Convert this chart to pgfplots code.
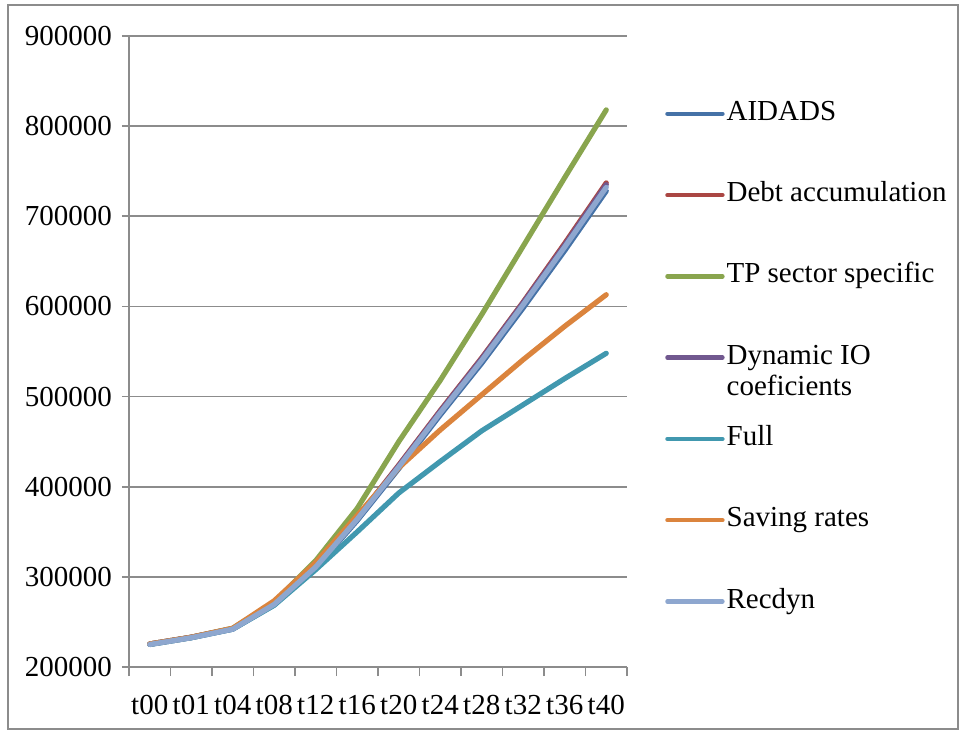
\documentclass[border=0pt]{standalone}
\usepackage{fontspec}
\setmainfont{Liberation Serif}
\usepackage{pgfplots}
\usepackage{pgfplotstable}
\pgfplotsset{compat=1.18}

\definecolor{cAidads}{HTML}{4572A7}
\definecolor{cDebt}{HTML}{AA4643}
\definecolor{cTP}{HTML}{89A54E}
\definecolor{cDyn}{HTML}{71588F}
\definecolor{cFull}{HTML}{4198AF}
\definecolor{cSave}{HTML}{DB843D}
\definecolor{cRec}{HTML}{8EA7CF}
\definecolor{gridgray}{HTML}{8C8C8C}

% GDP paths by scenario, periods t00 ... t40 at positions 0 ... 11
\pgfplotstableread{
x aidads debt tp dyn full save rec
0  225000 225500 225500 225500 225000 225500 225000
1  232500 233000 233000 233000 232500 233000 232500
2  242000 242500 243000 242500 242000 243000 242000
3  269000 270000 272000 270000 268500 273500 269500
4  310000 312000 318000 311500 308000 316000 311000
5  362500 365500 376000 365000 350000 368000 364000
6  420000 424000 450000 423000 393000 421000 422000
7  479500 484500 518000 483500 428000 463000 482000
8  537000 543000 591000 542000 462000 502000 540000
9  598500 605000 667000 604000 491000 541000 602000
10 662000 670000 743000 668000 520000 578000 666000
11 728000 737000 818000 735000 548000 613000 732000
}\gdpdata

\begin{document}
\fontsize{14.5}{15.5}\selectfont
\begin{tikzpicture}
\begin{axis}[
  at={(0pt,0pt)}, anchor=south west,
  scale only axis,
  width=249pt, height=315.5pt,
  xmin=-0.5, xmax=11.5,
  ymin=200000, ymax=900000,
  ytick={200000,300000,...,900000},
  scaled y ticks=false,
  yticklabel style={/pgf/number format/.cd, fixed, precision=0, 1000 sep={}, assume math mode=true},
  yticklabel={\pgfmathprintnumber{\tick}},
  xtick={0,...,11},
  xticklabels={t00,t01,t04,t08,t12,t16,t20,t24,t28,t32,t36,t40},
  minor xtick={-0.5,0.5,...,11.5},
  major tick length=3.5pt,
  minor tick length=4.5pt,
  xtick style={draw=none},
  minor x tick style={draw=gridgray, line width=0.8pt},
  ytick style={draw=gridgray, line width=0.8pt},
  tick align=outside,
  axis x line*=bottom, axis y line*=left,
  axis line style={draw=gridgray, line width=0.8pt, -},
  ymajorgrids,
  grid style={draw=gridgray, line width=0.8pt},
  xticklabel style={yshift=-5.5pt},
  every axis plot/.append style={line width=2.6pt, line cap=round, line join=round},
  legend cell align=left,
  legend image code/.code={\draw[#1, line width=2.2pt] (0pt,0pt) -- (27.5pt,0pt);},
  legend style={draw=none, fill=none, inner sep=0pt,
    at={(1.076,0.902)}, anchor=north west,
    row sep=25.15pt,
    nodes={inner sep=1pt, text height=10pt, text depth=3.5pt, font=\fontsize{14.5}{15.5}\selectfont}},
]
\addplot[cAidads] table[x=x, y=aidads] {\gdpdata};
\addlegendentry{AIDADS}
\addplot[cDebt] table[x=x, y=debt] {\gdpdata};
\addlegendentry{Debt accumulation}
\addplot[cTP] table[x=x, y=tp] {\gdpdata};
\addlegendentry{TP sector specific}
\addplot[cDyn] table[x=x, y=dyn] {\gdpdata};
\addlegendentry{\smash{\begin{tabular}[t]{@{}l@{}}Dynamic IO\\coeficients\end{tabular}}}
\addplot[cFull] table[x=x, y=full] {\gdpdata};
\addlegendentry{Full}
\addplot[cSave] table[x=x, y=save] {\gdpdata};
\addlegendentry{Saving rates}
\addplot[cRec] table[x=x, y=rec] {\gdpdata};
\addlegendentry{Recdyn}
\end{axis}
% chart frame and page extent
\draw[gridgray, line width=0.6pt] (-60.5pt,-31pt) rectangle (414.5pt,331pt);
\path (-64.5pt,-33.5pt) rectangle (418pt,333.5pt);
\end{tikzpicture}
\end{document}
